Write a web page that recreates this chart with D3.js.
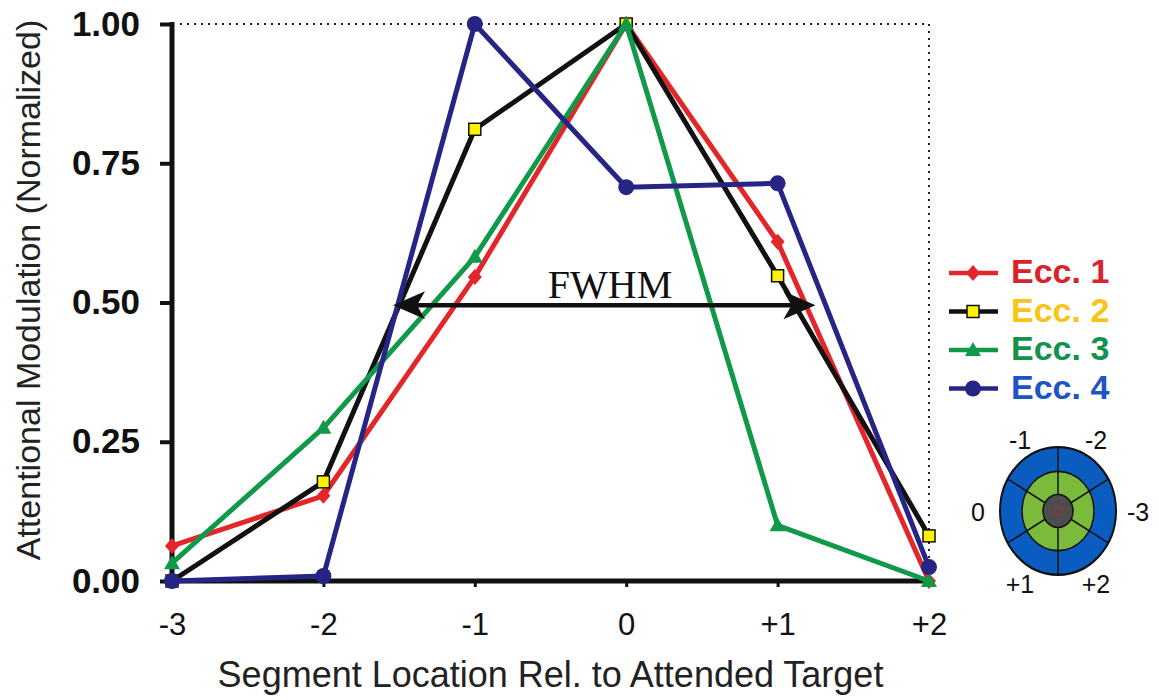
<!DOCTYPE html>
<html>
<head>
<meta charset="utf-8">
<script src="https://cdn.jsdelivr.net/npm/d3@7"></script>
<style>
  body { margin: 0; background: #fff; }
  svg { display: block; }
</style>
</head>
<body>
<div id="chart"></div>
<script>
// data
var locations = [-3, -2, -1, 0, 1, 2]
var tickLabels = ["-3", "-2", "-1", "0", "+1", "+2"]
var yTicks = [0, 0.25, 0.5, 0.75, 1]
var ecc1 = [0.063, 0.153, 0.546, 1.0, 0.609, 0.0]
var ecc2 = [0.0, 0.178, 0.811, 1.0, 0.548, 0.081]
var ecc3 = [0.032, 0.275, 0.582, 1.0, 0.100, 0.0]
var ecc4 = [0.0, 0.009, 1.0, 0.707, 0.714, 0.025]
var seriesNames = ["Ecc. 1", "Ecc. 2", "Ecc. 3", "Ecc. 4"]
var fwhmEnds = [-1.54, 1.25]
var fwhmLevel = 0.495
var insetLabels = ["-1", "-2", "-3", "+2", "+1", "0"]

var width = 1159, height = 700

var svg = d3.select("#chart")
  .append("svg")
  .attr("width", width)
  .attr("height", height)

var x = d3.scaleLinear().domain([-3, 2]).range([172, 929])
var y = d3.scaleLinear().domain([0, 1]).range([581, 24])

var series = [
  { name: seriesNames[0], values: ecc1, line: "#e3262a", text: "#d8232a", marker: "diamond" },
  { name: seriesNames[1], values: ecc2, line: "#111111", text: "#f6c515", marker: "square" },
  { name: seriesNames[2], values: ecc3, line: "#11994a", text: "#12924a", marker: "triangle" },
  { name: seriesNames[3], values: ecc4, line: "#262585", text: "#1d55c2", marker: "circle" }
]

// dotted frame top and right
svg.append("line")
  .attr("x1", x(-3) + 8).attr("x2", x(2))
  .attr("y1", y(1)).attr("y2", y(1))
  .attr("stroke", "#222").attr("stroke-width", 2)
  .attr("stroke-dasharray", "2,5")
svg.append("line")
  .attr("x1", x(2)).attr("x2", x(2))
  .attr("y1", y(1)).attr("y2", y(0))
  .attr("stroke", "#222").attr("stroke-width", 2)
  .attr("stroke-dasharray", "2,5")

// X axis
var xAxis = svg.append("g")
  .attr("transform", "translate(0," + y(0) + ")")
  .call(d3.axisBottom(x).tickValues(locations)
    .tickFormat(function (d, i) { return tickLabels[i] })
    .tickSize(6).tickPadding(26))
xAxis.select(".domain").attr("stroke", "#111").attr("stroke-width", 5)
  .attr("d", "M" + x(-3) + ",0H" + (x(2) + 2))
xAxis.selectAll(".tick line").attr("stroke", "#111").attr("stroke-width", 3)
xAxis.selectAll(".tick text")
  .style("font-family", "'Liberation Sans', Arial, sans-serif")
  .style("font-size", "31px")
  .attr("fill", "#111")

// Y axis
var yAxis = svg.append("g")
  .attr("transform", "translate(" + x(-3) + ",0)")
  .call(d3.axisLeft(y).tickValues(yTicks)
    .tickFormat(d3.format(".2f"))
    .tickSize(12).tickPadding(20))
yAxis.select(".domain").attr("stroke", "#111").attr("stroke-width", 5)
  .attr("d", "M0," + (y(1) - 2) + "V" + (y(0) + 2))
yAxis.selectAll(".tick line").attr("stroke", "#111").attr("stroke-width", 4)
yAxis.selectAll(".tick text")
  .style("font-family", "'Liberation Sans', Arial, sans-serif")
  .style("font-size", "35px")
  .style("font-weight", "bold")
  .attr("fill", "#111")

// axis titles
svg.append("text")
  .attr("x", (x(-3) + x(2)) / 2)
  .attr("y", 687)
  .attr("text-anchor", "middle")
  .style("font-family", "'Liberation Sans', Arial, sans-serif")
  .style("font-size", "36px")
  .attr("fill", "#222")
  .text("Segment Location Rel. to Attended Target")

svg.append("text")
  .attr("transform", "translate(40,290) rotate(-90)")
  .attr("text-anchor", "middle")
  .style("font-family", "'Liberation Sans', Arial, sans-serif")
  .style("font-size", "34px")
  .attr("fill", "#222")
  .text("Attentional Modulation (Normalized)")

// marker drawing
function drawMarker(sel, type, color) {
  if (type === "diamond") {
    sel.append("path").attr("d", "M0,-8L7,0L0,8L-7,0Z").attr("fill", color)
  } else if (type === "square") {
    sel.append("rect").attr("x", -6).attr("y", -6).attr("width", 12).attr("height", 12)
      .attr("fill", "#fff200").attr("stroke", "#111").attr("stroke-width", 1.5)
  } else if (type === "triangle") {
    sel.append("path").attr("d", "M0,-8L8,6L-8,6Z").attr("fill", color)
  } else {
    sel.append("circle").attr("r", 8).attr("fill", color)
  }
}

var line = d3.line()
  .x(function (d, i) { return x(locations[i]) })
  .y(function (d) { return y(d) })

series.forEach(function (s) {
  svg.append("path")
    .attr("d", line(s.values))
    .attr("fill", "none")
    .attr("stroke", s.line)
    .attr("stroke-width", 5)
    .attr("stroke-linejoin", "round")
  s.values.forEach(function (v, i) {
    var g = svg.append("g").attr("transform", "translate(" + x(locations[i]) + "," + y(v) + ")")
    drawMarker(g, s.marker, s.line)
  })
})

// FWHM arrow
var ay = y(fwhmLevel), ax1 = x(fwhmEnds[0]), ax2 = x(fwhmEnds[1])
svg.append("line")
  .attr("x1", ax1 + 10).attr("x2", ax2 - 10)
  .attr("y1", ay).attr("y2", ay)
  .attr("stroke", "#111").attr("stroke-width", 4.5)
svg.append("path")
  .attr("d", "M" + ax1 + "," + ay + "l32,-14l-8,14l8,14z")
  .attr("fill", "#111")
svg.append("path")
  .attr("d", "M" + ax2 + "," + ay + "l-32,-14l8,14l-8,14z")
  .attr("fill", "#111")
svg.append("text")
  .attr("x", 610).attr("y", 298)
  .attr("text-anchor", "middle")
  .style("font-family", "'Liberation Serif', 'Times New Roman', serif")
  .style("font-size", "40px")
  .attr("fill", "#111")
  .text("FWHM")

// legend
var legend = svg.append("g")
series.forEach(function (s, i) {
  var ly = 273 + i * 38.5
  legend.append("line")
    .attr("x1", 949).attr("x2", 998)
    .attr("y1", ly).attr("y2", ly)
    .attr("stroke", s.line).attr("stroke-width", 4.5)
  var g = legend.append("g").attr("transform", "translate(973," + ly + ")")
  drawMarker(g, s.marker, s.line)
  legend.append("text")
    .attr("x", 1011).attr("y", ly + 10)
    .style("font-family", "'Liberation Sans', Arial, sans-serif")
    .style("font-size", "34px")
    .style("font-weight", "bold")
    .attr("fill", s.text)
    .text(s.name)
})

// inset: segmented target
var inset = svg.append("g").attr("transform", "translate(1058,511) scale(1,1.1)")
var rOut = 58, rMid = 36, rIn = 15
inset.append("circle").attr("r", rOut).attr("fill", "#0b5cc0").attr("stroke", "#111").attr("stroke-width", 2)
inset.append("circle").attr("r", rMid).attr("fill", "#7cba3c").attr("stroke", "#111").attr("stroke-width", 1.5)
var spokes = [90, 30, -30, -90, -150, 150]
spokes.forEach(function (a) {
  var t = a * Math.PI / 180
  inset.append("line")
    .attr("x1", rIn * Math.cos(t)).attr("y1", -rIn * Math.sin(t))
    .attr("x2", rOut * Math.cos(t)).attr("y2", -rOut * Math.sin(t))
    .attr("stroke", "#111").attr("stroke-width", 1.5)
})
inset.append("circle").attr("r", rIn).attr("fill", "#4d4d4f").attr("stroke", "#111").attr("stroke-width", 1.5)
inset.append("circle").attr("r", 4).attr("fill", "none").attr("stroke", "#e02020")
  .attr("stroke-width", 1.2).attr("stroke-dasharray", "1.5,1.5")

// sector labels, placed around the circle at the sector mid angles
var labelAngles = [120, 60, 0, -60, -120, 180]
var labelR = [76, 76, 80, 76, 76, 80]
labelAngles.forEach(function (a, i) {
  var t = a * Math.PI / 180
  svg.append("text")
    .attr("x", 1058 + labelR[i] * Math.cos(t))
    .attr("y", 511 - labelR[i] * 1.1 * Math.sin(t) + 10)
    .attr("text-anchor", "middle")
    .style("font-family", "'Liberation Sans', Arial, sans-serif")
    .style("font-size", "25px")
    .attr("fill", "#111")
    .text(insetLabels[i])
})
</script>
</body>
</html>
